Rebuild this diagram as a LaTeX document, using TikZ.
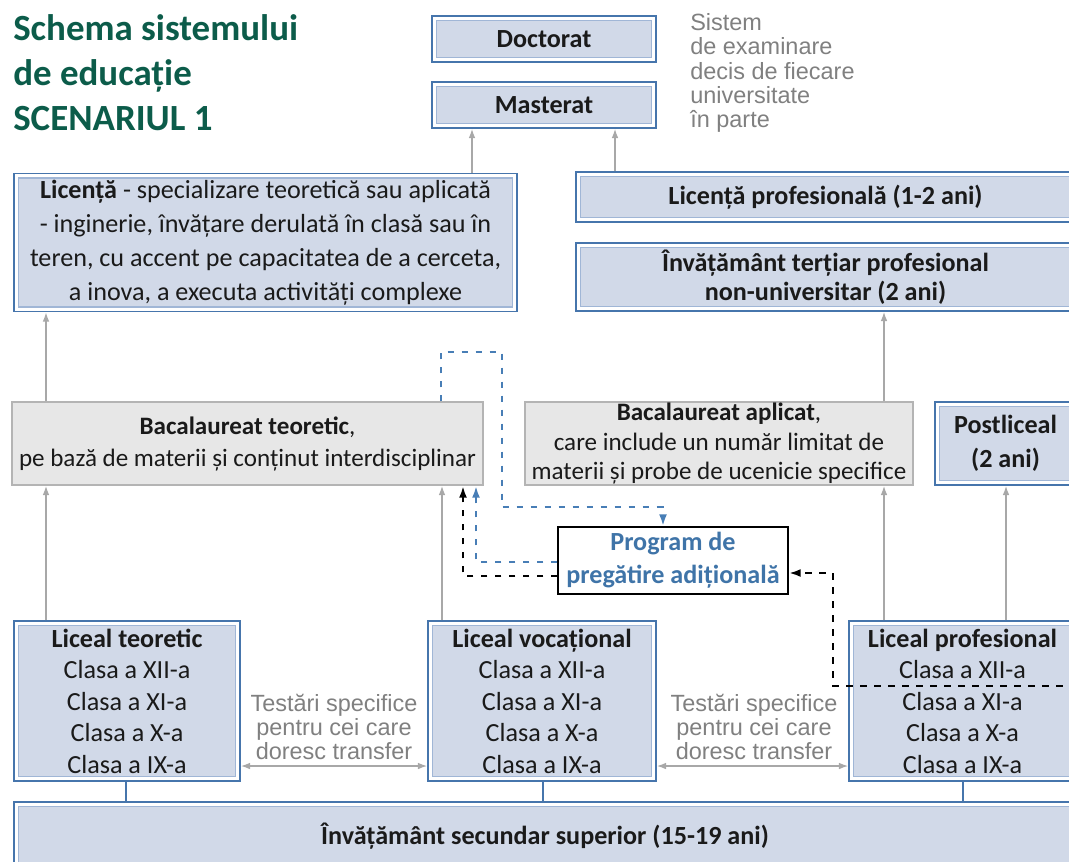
\documentclass[tikz,border=0pt]{standalone}
\usepackage{fontspec}
\setmainfont{Carlito}
\newfontfamily\arialfont{Liberation Sans}
\usetikzlibrary{arrows.meta}

\definecolor{boxline}{RGB}{70,117,172}
\definecolor{innerline}{RGB}{160,182,214}
\definecolor{boxfill}{RGB}{209,217,232}
\definecolor{bacfill}{RGB}{231,231,231}
\definecolor{bacline}{RGB}{180,180,180}
\definecolor{arrgrey}{RGB}{168,168,168}
\definecolor{dashblue}{RGB}{72,126,182}
\definecolor{progblue}{RGB}{63,116,168}
\definecolor{titlegreen}{RGB}{12,92,74}
\definecolor{greytxt}{RGB}{128,128,128}
\definecolor{txt}{RGB}{26,26,26}

\begin{document}
\begin{tikzpicture}[x=0.75pt,y=-0.75pt,
  lbox/.style={draw=boxline, line width=1.1pt, fill=white, inner sep=0pt, align=center, text=txt,
    font=\fontsize{19.6}{23.6}\selectfont,
    path picture={\draw[innerline, line width=1.1pt, fill=boxfill]
      ([shift={(3.4pt,-3.4pt)}]path picture bounding box.north west) rectangle
      ([shift={(-3.4pt,3.4pt)}]path picture bounding box.south east);}},
  bacbox/.style={draw=bacline, line width=1.1pt, fill=bacfill, inner sep=0pt, align=center, text=txt,
    font=\fontsize{18.8}{24}\selectfont},
  greytext/.style={text=greytxt, align=center, inner sep=0pt, font=\arialfont\fontsize{17.6}{18.2}\selectfont},
  uparr/.style={arrgrey, line width=1.1pt, -{Latex[length=7pt,width=5pt]}},
  lrarr/.style={arrgrey, line width=1.1pt, {Latex[length=7pt,width=5pt]}-{Latex[length=7pt,width=5pt]}},
  link/.style={boxline, line width=1.1pt},
  bluedash/.style={dashblue, line width=2pt, dash pattern=on 5pt off 5.5pt, -{Latex[length=9pt,width=6pt]}},
  blackdash/.style={black, line width=2pt, dash pattern=on 5pt off 5.5pt, -{Latex[length=9pt,width=6pt]}}]
\useasboundingbox (0,0) rectangle (1069,861);
\clip (0,0) rectangle (1069,861);

\node[anchor=west, align=left, inner sep=0pt, text=titlegreen, font=\fontsize{27.7}{33.75}\selectfont\bfseries] (title) at (13,73)
  {Schema sistemului\\de educație\\SCENARIUL 1};
\node[greytext, anchor=west, align=left] (exam) at (690,73)
  {Sistem\\de examinare\\decis de fiecare\\universitate\\în parte};

\node[lbox, minimum width=168pt, minimum height=34.5pt, font=\fontsize{19.6}{23.6}\selectfont\bfseries] (doct) at (544,39) {Doctorat};
\node[lbox, minimum width=168pt, minimum height=34.5pt, font=\fontsize{19.6}{23.6}\selectfont\bfseries] (mast) at (544,105) {Masterat};

\node[lbox, minimum width=377.25pt, minimum height=103.5pt, font=\fontsize{19.6}{25.5}\selectfont] (lic) at (265.5,242.5)
  {\textbf{Licență} - specializare teoretică sau aplicată\\- inginerie, învățare derulată în clasă sau în\\teren, cu accent pe capacitatea de a cerceta,\\a inova, a executa activități complexe};
\node[lbox, minimum width=374.25pt, minimum height=37.5pt, font=\fontsize{19.6}{23.6}\selectfont\bfseries] (licprof) at (825.5,197)
  {Licență profesională (1-2 ani)};
\node[lbox, minimum width=374.25pt, minimum height=51pt, font=\fontsize{19.6}{21.6}\selectfont\bfseries] (tert) at (825.5,277)
  {Învățământ terțiar profesional\\non-universitar (2 ani)};

\node[bacbox, minimum width=353.25pt, minimum height=62.25pt] (bacteo) at (247.5,443.5)
  {\textbf{Bacalaureat teoretic},\\pe bază de materii și conținut interdisciplinar};
\node[bacbox, minimum width=291pt, minimum height=62.25pt, font=\fontsize{18.8}{21.8}\selectfont] (bacapl) at (719,443.5)
  {\textbf{Bacalaureat aplicat},\\care include un număr limitat de\\materii și probe de ucenicie specifice};
\node[lbox, minimum width=105.75pt, minimum height=62.25pt, font=\fontsize{19.6}{25.5}\selectfont\bfseries] (post) at (1005.5,443.5)
  {Postliceal\\(2 ani)};

\node[draw=black, line width=1.1pt, fill=white, inner sep=0pt, align=center, text=progblue,
  font=\fontsize{19.6}{24.8}\selectfont\bfseries, minimum width=172.5pt, minimum height=50.25pt] (prog) at (673,560.5)
  {Program de\\pregătire adițională};

\node[lbox, minimum width=169.5pt, minimum height=120pt] (lt) at (127,701)
  {\textbf{Liceal teoretic}\\Clasa a XII-a\\Clasa a XI-a\\Clasa a X-a\\Clasa a IX-a};
\node[lbox, minimum width=171pt, minimum height=120pt] (lv) at (542,701)
  {\textbf{Liceal vocațional}\\Clasa a XII-a\\Clasa a XI-a\\Clasa a X-a\\Clasa a IX-a};
\node[lbox, minimum width=170.25pt, minimum height=120pt] (lp) at (962.5,701)
  {\textbf{Liceal profesional}\\Clasa a XII-a\\Clasa a XI-a\\Clasa a X-a\\Clasa a IX-a};

\node[lbox, minimum width=796.5pt, minimum height=51pt, font=\fontsize{19.6}{23.6}\selectfont\bfseries] (sec) at (545,836)
  {Învățământ secundar superior (15-19 ani)};

\node[greytext] (tr1) at (334,727) {Testări specifice\\pentru cei care\\doresc transfer};
\node[greytext] (tr2) at (754,727) {Testări specifice\\pentru cei care\\doresc transfer};

\draw[uparr] (472,0 |- lic.north) -- (472,0 |- mast.south);
\draw[uparr] (615,0 |- licprof.north) -- (615,0 |- mast.south);
\draw[uparr] (46,0 |- bacteo.north) -- (46,0 |- lic.south);
\draw[uparr] (884,0 |- bacapl.north) -- (884,0 |- tert.south);
\draw[uparr] (46,0 |- lt.north) -- (46,0 |- bacteo.south);
\draw[uparr] (442,0 |- lv.north) -- (442,0 |- bacteo.south);
\draw[uparr] (884,0 |- lp.north) -- (884,0 |- bacapl.south);
\draw[uparr] (1006,0 |- lp.north) -- (1006,0 |- post.south);

\draw[lrarr] (lt.east |- 0,766) -- (lv.west |- 0,766);
\draw[lrarr] (lv.east |- 0,766) -- (lp.west |- 0,766);

\draw[link] (sec.north -| 126,0) -- (lt.south -| 126,0);
\draw[link] (sec.north -| 543,0) -- (lv.south -| 543,0);
\draw[link] (sec.north -| 963,0) -- (lp.south -| 963,0);

\draw[bluedash] (441,0 |- bacteo.north) -- (441,352) -- (502,352) -- (502,507) -- (663,507) -- (663,0 |- prog.north);
\draw[bluedash] (prog.west |- 0,562) -- (476,562) -- (476,0 |- bacteo.south);
\draw[blackdash] (prog.west |- 0,576) -- (463,576) -- (463,0 |- bacteo.south);
\coordinate (cut) at (lp.east |- 0,686);
\draw[blackdash] (cut) -- (833,686) -- (833,573) -- (prog.east |- 0,573);
\end{tikzpicture}
\end{document}
